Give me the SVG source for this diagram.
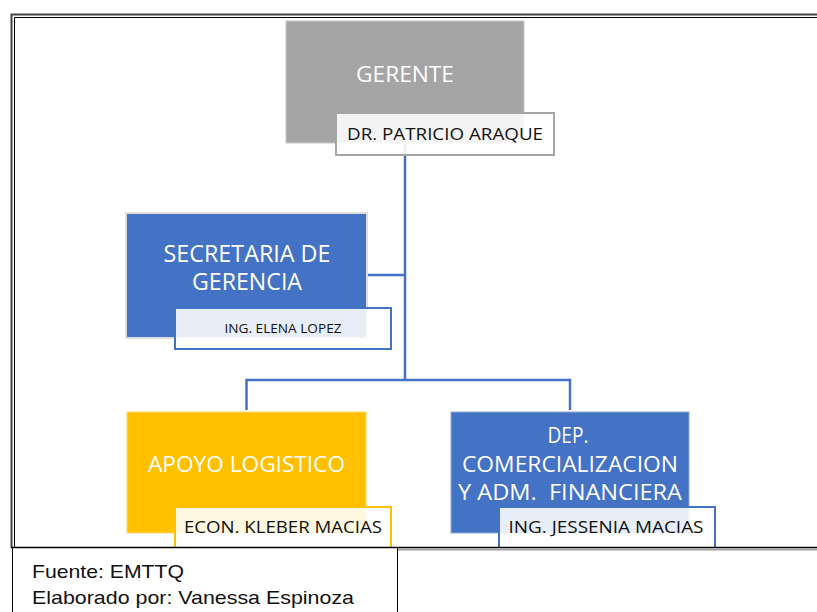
<svg xmlns="http://www.w3.org/2000/svg" width="817" height="612" viewBox="0 0 817 612">
<style>
.title{font-family:"Open Sans","Noto Sans",sans-serif;fill:#fff;text-anchor:middle}
.name{font-family:"Open Sans","Noto Sans",sans-serif;fill:#111;text-anchor:middle}
.foot{font-family:"Liberation Sans",Arial,sans-serif;fill:#111;font-size:19px}
.conn{stroke:#4472C4;stroke-width:2.5;fill:none}
.nb{fill:#fff;fill-opacity:0.88;stroke-width:2}
</style>
<rect width="817" height="612" fill="#fff"/>
<g id="frame">
<path d="M11.5 548 V14.5 H817" fill="none" stroke="#444" stroke-width="2"/>
<path d="M14.5 548 V17.5 H817" fill="none" stroke="#000" stroke-width="1"/>
</g>
<g id="connectors">
<path class="conn" d="M405 142 V380"/>
<path class="conn" d="M367 275 H405"/>
<path class="conn" d="M246.5 410 V380 H570 V410"/>
</g>
<g id="gerente">
<rect x="286" y="21" width="238" height="122" fill="#A5A5A5" stroke="#C8C8C8" stroke-width="1"/>
<text class="title" x="405" y="82" font-size="22" textLength="98" lengthAdjust="spacingAndGlyphs">GERENTE</text>
<rect class="nb" x="336" y="113" width="218" height="42" stroke="#A5A5A5"/>
<text class="name" x="445" y="140" font-size="17" textLength="196" lengthAdjust="spacingAndGlyphs">DR. PATRICIO ARAQUE</text>
</g>
<g id="secretaria">
<rect x="126" y="213" width="241" height="125" fill="#4472C4" stroke="#DDDDDD" stroke-width="2"/>
<text class="title" x="247" y="262" font-size="23" textLength="167" lengthAdjust="spacingAndGlyphs">SECRETARIA DE</text>
<text class="title" x="247" y="290" font-size="23" textLength="110" lengthAdjust="spacingAndGlyphs">GERENCIA</text>
<rect class="nb" x="175" y="308" width="216" height="41" stroke="#4472C4"/>
<text class="name" x="283" y="333" font-size="12.5" textLength="117" lengthAdjust="spacingAndGlyphs">ING. ELENA LOPEZ</text>
</g>
<g id="apoyo">
<rect x="127" y="412" width="239" height="121" fill="#FFC000" stroke="#FFD966" stroke-width="1"/>
<text class="title" x="246.5" y="472" font-size="22" textLength="197" lengthAdjust="spacingAndGlyphs">APOYO LOGISTICO</text>
<rect class="nb" x="175" y="507" width="216" height="60" stroke="#FFC000"/>
<text class="name" x="283" y="533" font-size="17" textLength="198" lengthAdjust="spacingAndGlyphs">ECON. KLEBER MACIAS</text>
</g>
<g id="dep">
<rect x="451" y="412" width="238" height="121" fill="#4472C4" stroke="#8EA9DB" stroke-width="1"/>
<text class="title" x="568" y="443" font-size="22" textLength="41" lengthAdjust="spacingAndGlyphs">DEP.</text>
<text class="title" x="570" y="472" font-size="22" textLength="216" lengthAdjust="spacingAndGlyphs">COMERCIALIZACION</text>
<text class="title" x="570" y="500" font-size="22" textLength="224" lengthAdjust="spacingAndGlyphs" xml:space="preserve">Y ADM.  FINANCIERA</text>
<rect class="nb" x="499" y="507" width="216" height="60" stroke="#4472C4"/>
<text class="name" x="606" y="533" font-size="17" textLength="195" lengthAdjust="spacingAndGlyphs">ING. JESSENIA MACIAS</text>
</g>
<g id="footer">
<rect x="0" y="548" width="817" height="64" fill="#fff"/>
<path d="M11 547.5 H817" stroke="#000" stroke-width="1.5"/>
<path d="M397 549.5 H817" stroke="#A0A0A0" stroke-width="2"/>
<path d="M12.5 548 V612 M397.5 548 V612" stroke="#000" stroke-width="1"/>
<text class="foot" x="32" y="578" textLength="152" lengthAdjust="spacingAndGlyphs">Fuente: EMTTQ</text>
<text class="foot" x="32" y="604" textLength="322" lengthAdjust="spacingAndGlyphs">Elaborado por: Vanessa Espinoza</text>
</g>
</svg>
